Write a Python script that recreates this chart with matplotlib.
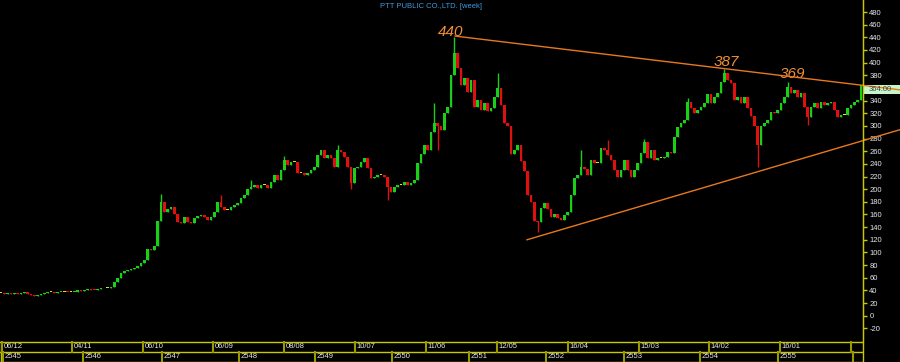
import numpy as np
import matplotlib.pyplot as plt
from matplotlib.lines import Line2D
from matplotlib.patches import Rectangle
import matplotlib.transforms as mtransforms

plt.rcParams['font.family'] = ['Liberation Sans', 'DejaVu Sans']

title = 'PTT PUBLIC CO.,LTD. [week]'

closes = [
    36, 35, 36, 35, 36, 35, 36, 37, 35, 32, 31, 33, 35, 36, 37, 37, 36, 37,
    38, 38, 37, 37, 38, 40, 39, 40, 42, 41, 40, 42, 43, 44, 44, 46, 53, 60,
    67, 71, 73, 74, 75, 79, 83, 88, 105, 104, 110, 150, 180, 164, 168,
    172, 160, 148, 147, 156, 148, 147, 154, 157, 159, 156, 152, 156, 164, 180,
    172, 167, 167, 172, 175, 178, 186, 191, 200, 204, 207, 202, 207, 207, 202,
    212, 222, 215, 230, 246, 238, 243, 243, 225, 225, 222, 225, 230, 235, 254,
    262, 249, 254, 249, 235, 262, 259, 251, 235, 210, 233, 235, 243, 249, 233,
    218, 220, 222, 222, 220, 204, 196, 204, 207, 207, 212, 207, 210, 215, 241,
    255, 270, 262, 290, 305, 300, 294, 320, 330, 380, 415, 392, 365, 375, 354,
    372, 330, 341, 325, 336, 324, 328, 346, 360, 333, 305, 300, 255, 262, 270,
    245, 228, 190, 180, 150, 148, 170, 178, 168, 156, 160, 155, 151, 159, 164,
    190, 218, 222, 235, 232, 222, 246, 241, 241, 265, 262, 254, 246, 230, 220,
    230, 246, 230, 220, 230, 241, 257, 275, 250, 262, 246, 249, 249, 251, 259,
    257, 283, 299, 305, 309, 338, 328, 320, 325, 330, 336, 350, 336, 346, 352,
    370, 384, 372, 368, 341, 346, 336, 346, 328, 316, 300, 270, 300, 305, 309,
    322, 320, 325, 336, 346, 362, 352, 357, 346, 352, 330, 314, 330, 336, 328,
    338, 333, 336, 338, 325, 314, 317, 317, 328, 333, 338, 341, 364,
]
spike_highs = {48: 192, 66: 191, 75: 215, 85: 252, 101: 270, 130: 336,
               136: 440, 149: 384, 153: 297, 174: 262, 182: 278, 193: 280,
               206: 344, 217: 390, 236: 369}
spike_lows = {105: 200, 116: 183, 131: 262, 161: 133, 227: 235, 242: 301}

peak_labels = ['440', '387', '369']
peak_x = [135, 217.5, 237.3]
peak_y = [448, 401, 382]

upper_x = [136.2, 269.7]
upper_y = [442, 357]
lower_x = [157.8, 269.7]
lower_y = [120, 294]

date_labels = ['06/12', '04/11', '06/10', '06/09', '08/08', '10/07', '11/06',
               '12/05', '16/04', '15/03', '14/02', '16/01', '']
date_pos = [0.3, 21.3, 42.6, 63.6, 84.9, 106.2, 127.5, 148.8, 170.1, 191.4,
            212.4, 233.7, 255.0]
year_labels = ['2545', '2546', '2547', '2548', '2549', '2550', '2551', '2552',
               '2553', '2554', '2555', '']
year_pos = [0.6, 24.6, 48.3, 71.4, 94.2, 117.3, 140.4, 163.5, 186.9, 209.7,
            233.1, 255.6]

closes = np.array(closes, dtype=float)
opens = np.r_[closes[0], closes[:-1]]
highs = np.maximum(opens, closes)
lows = np.minimum(opens, closes)
for k, v in spike_highs.items():
    highs[k] = max(highs[k], v)
for k, v in spike_lows.items():
    lows[k] = min(lows[k], v)
x = np.arange(len(closes))

colors = []
for o, c in zip(opens, closes):
    if abs(c - o) < 1:
        colors.append('#e6e600')
    elif c > o:
        colors.append('#18d018')
    else:
        colors.append('#e01010')

YEL = '#c8c800'
fig = plt.figure(figsize=(9, 3.62), dpi=100, facecolor='black')
ax = fig.add_axes([0, 21 / 362, 863 / 900, 341 / 362], facecolor='black')

ax.vlines(x, lows, highs, colors=colors, lw=1)
ax.bar(x, np.maximum(np.abs(closes - opens), 1.5), bottom=np.minimum(opens, closes),
       width=0.8, color=colors, linewidth=0)

ax.plot(upper_x, upper_y, color='#e8781e', lw=1, clip_on=False, zorder=4)
ax.plot(lower_x, lower_y, color='#e8781e', lw=1, clip_on=False, zorder=4)
for t, px, py in zip(peak_labels, peak_x, peak_y):
    ax.text(px, py, t, color='#f09038', fontsize=11, fontstyle='italic',
            ha='center', va='center')

ax.set_xlim(-0.3, 258.6)
ax.set_ylim(-40, 499)
ax.set_xticks([])
ax.yaxis.tick_right()
yt = np.arange(-20, 481, 20)
ax.set_yticks(yt)
# the last-price box hides the 360 label
ax.set_yticklabels(['' if v == 360 else str(v) for v in yt])
ax.tick_params(axis='y', colors=YEL, labelcolor='#e6e6e6', labelsize=5.5,
               length=3, width=1, pad=1.5)
for s in ['top', 'left', 'bottom']:
    ax.spines[s].set_visible(False)
ax.spines['right'].set_color(YEL)

trans = mtransforms.blended_transform_factory(ax.transAxes, ax.transData)
ax.add_patch(Rectangle((1.0, closes[-1] - 13), 37 / 863, 13, transform=trans,
                       facecolor='#c8f5c8', edgecolor='none', clip_on=False, zorder=3))
ax.text(1.006, closes[-1] - 6.5, '%.2f' % closes[-1], transform=trans, fontsize=5.5,
        color='#404040', va='center', ha='left', clip_on=False, zorder=5)

fig.text(431 / 900, 1 - 6 / 362, title, color='#3c9be0', fontsize=5.5,
         ha='center', va='center')

# date strips
ax2 = fig.add_axes([0, 0, 863 / 900, 21 / 362], facecolor='black', sharex=ax)
ax2.set_ylim(0, 2.1)
ax2.axis('off')
for yy in [2.0, 1.05, 0.05]:
    ax2.axhline(yy, color=YEL, lw=1)
ax2.axvline(-0.1, color=YEL, lw=1)
for p, t in zip(date_pos, date_labels):
    ax2.plot([p, p], [1.05, 2.0], color='#9a9a00', lw=1.5)
    ax2.text(p + 0.4, 1.52, t, color='#e6e6e6', fontsize=5.5, va='center')
for p, t in zip(year_pos, year_labels):
    ax2.plot([p, p], [0.05, 1.05], color='#9a9a00', lw=1.5)
    ax2.text(p + 0.4, 0.55, t, color='#e6e6e6', fontsize=5.5, va='center')

fig.add_artist(Line2D([863 / 900, 863 / 900], [0, 1], color=YEL, lw=1,
                      transform=fig.transFigure))

fig.savefig('out.png', dpi=100, facecolor='black')
